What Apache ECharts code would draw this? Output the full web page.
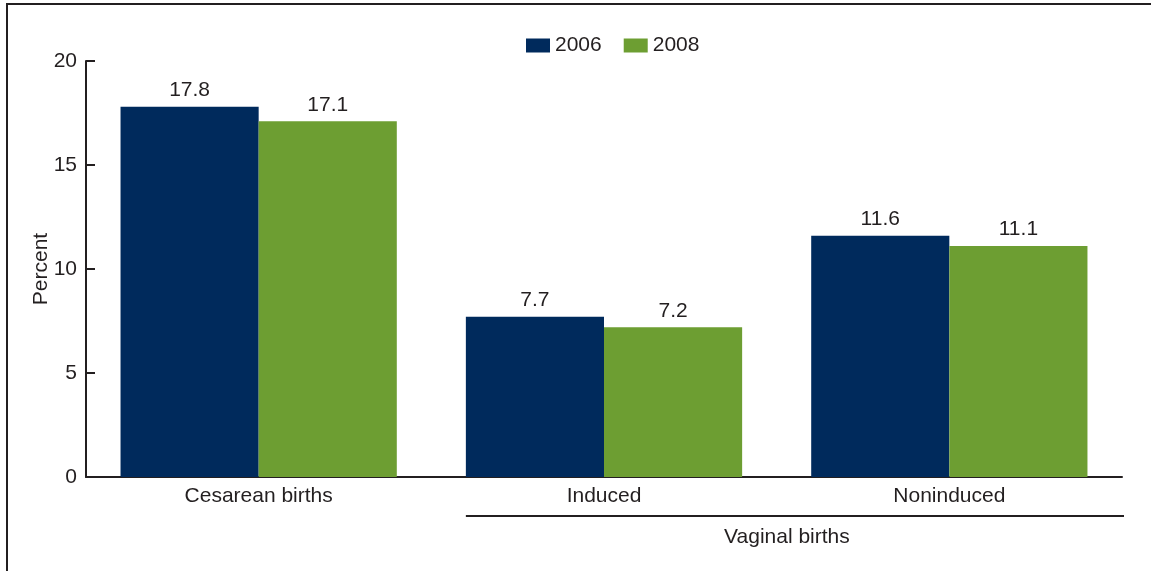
<!DOCTYPE html>
<html>
<head>
<meta charset="utf-8">
<style>
  html, body { margin: 0; padding: 0; background: #fff; }
  #chart { width: 1151px; height: 571px; }
</style>
<script src="https://cdn.jsdelivr.net/npm/echarts@6/dist/echarts.min.js"></script>
</head>
<body>
<div id="chart"></div>
<script>
const categories = ['Cesarean births', 'Induced', 'Noninduced']
const years = ['2006', '2008']
const values2006 = [17.8, 7.7, 11.6]
const values2008 = [17.1, 7.2, 11.1]
const groupLabel = 'Vaginal births'

const textColor = '#231f20'
const font = 'Liberation Sans, Arial, sans-serif'
const fs = 21

const chart = echarts.init(document.getElementById('chart'))

const barLabel = {
  show: true,
  position: 'top',
  distance: 6,
  color: textColor,
  fontSize: fs,
  fontFamily: font
}

chart.setOption({
  animation: false,
  textStyle: { fontFamily: font },
  legend: {
    top: 30,
    left: 521,
    icon: 'rect',
    itemWidth: 24,
    itemHeight: 14,
    itemGap: 22,
    textStyle: { color: textColor, fontSize: fs, fontFamily: font },
    data: years
  },
  grid: { left: 86, right: 29, top: 61, bottom: 94 },
  xAxis: {
    type: 'category',
    data: categories,
    axisLine: { lineStyle: { color: '#231f20', width: 2 } },
    axisTick: { show: false },
    axisLabel: { color: textColor, fontSize: fs, margin: 9, fontFamily: font }
  },
  yAxis: {
    type: 'value',
    min: 0,
    max: 20,
    interval: 5,
    name: 'Percent',
    nameLocation: 'middle',
    nameGap: 34,
    nameMoveOverlap: false,
    nameTextStyle: { color: textColor, fontSize: fs, fontFamily: font },
    splitLine: { show: false },
    axisLine: { show: true, lineStyle: { color: '#231f20', width: 2 } },
    axisTick: { show: true, inside: true, length: 9, lineStyle: { color: '#231f20', width: 2 } },
    axisLabel: { color: textColor, fontSize: fs, margin: 9, fontFamily: font }
  },
  series: [
    {
      name: years[0],
      type: 'bar',
      data: values2006,
      barGap: '0%',
      barCategoryGap: '20%',
      itemStyle: { color: '#002a5c' },
      label: barLabel
    },
    {
      name: years[1],
      type: 'bar',
      data: values2008,
      itemStyle: { color: '#6d9e32' },
      label: barLabel
    }
  ]
})

// frame and the "Vaginal births" group bracket
const start = chart.convertToPixel({ xAxisIndex: 0 }, categories[1])
const end = chart.convertToPixel({ xAxisIndex: 0 }, categories[2])
const half = (end - start) / 2
const x0 = start - half * 0.8
const x1 = end + half + 2

chart.setOption({
  graphic: [
    {
      type: 'rect',
      shape: { x: 7, y: 4, width: 1160, height: 600 },
      style: { fill: 'none', stroke: '#231f20', lineWidth: 2 },
      silent: true
    },
    {
      type: 'line',
      shape: { x1: x0, y1: 516, x2: x1, y2: 516 },
      style: { stroke: '#231f20', lineWidth: 2 },
      silent: true
    },
    {
      type: 'text',
      x: (x0 + x1) / 2 - 8,
      y: 537,
      style: {
        text: groupLabel,
        fill: textColor,
        fontSize: fs,
        fontFamily: font,
        align: 'center',
        verticalAlign: 'middle'
      },
      silent: true
    }
  ]
})
</script>
</body>
</html>
